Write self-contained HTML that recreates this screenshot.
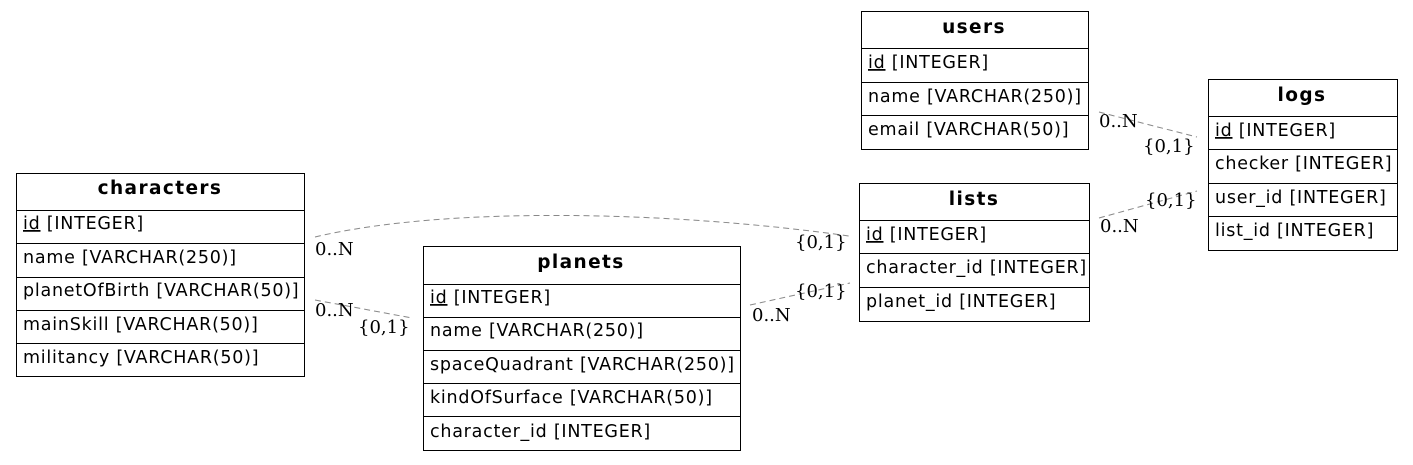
<!DOCTYPE html>
<html><head><meta charset="utf-8"><style>
body{margin:0;background:#fff;width:1413px;height:460px;overflow:hidden}
svg text{font-family:"DejaVu Sans","Liberation Sans",sans-serif;font-size:17.5px;fill:#000;letter-spacing:0.75px}
svg text.h{font-weight:bold;font-size:18.5px;letter-spacing:1.4px}
svg text.l{font-family:"DejaVu Serif","Liberation Serif",serif;font-size:18px;letter-spacing:0}
</style></head><body>
<svg width="1413" height="460" xmlns="http://www.w3.org/2000/svg">
<g fill="none" stroke="#888" stroke-dasharray="6,4" stroke-width="1">
<path d="M315,237 C450,205 680,212 849,236"/>
<path d="M315,300 L412,318"/>
<path d="M750,305 L850,283"/>
<path d="M1099,112 L1197,137"/>
<path d="M1099,218 L1197,191"/>
</g>
<g fill="#fff" stroke="#000" stroke-width="1">
<rect x="16.5" y="173.5" width="288" height="203"/>
<path d="M16.5,210.5H304.5M16.5,243.5H304.5M16.5,277.5H304.5M16.5,310.5H304.5M16.5,343.5H304.5"/>
<rect x="423.5" y="246.5" width="317" height="204"/>
<path d="M423.5,284.5H740.5M423.5,317.5H740.5M423.5,350.5H740.5M423.5,383.5H740.5M423.5,416.5H740.5"/>
<rect x="861.5" y="11.5" width="227" height="138"/>
<path d="M861.5,48.5H1088.5M861.5,82.5H1088.5M861.5,115.5H1088.5"/>
<rect x="859.5" y="183.5" width="230" height="138"/>
<path d="M859.5,220.5H1089.5M859.5,253.5H1089.5M859.5,287.5H1089.5"/>
<rect x="1208.5" y="79.5" width="189" height="171"/>
<path d="M1208.5,116.5H1397.5M1208.5,149.5H1397.5M1208.5,183.5H1397.5M1208.5,216.5H1397.5"/>
</g>
<text class="h" x="160" y="194" text-anchor="middle">characters</text>
<text x="23" y="229"><tspan text-decoration="underline">id</tspan> [INTEGER]</text>
<text x="23" y="263">name [VARCHAR(250)]</text>
<text x="23" y="296">planetOfBirth [VARCHAR(50)]</text>
<text x="23" y="330">mainSkill [VARCHAR(50)]</text>
<text x="23" y="363">militancy [VARCHAR(50)]</text>

<text class="h" x="581" y="268" text-anchor="middle">planets</text>
<text x="430" y="303"><tspan text-decoration="underline">id</tspan> [INTEGER]</text>
<text x="430" y="336">name [VARCHAR(250)]</text>
<text x="430" y="370">spaceQuadrant [VARCHAR(250)]</text>
<text x="430" y="403">kindOfSurface [VARCHAR(50)]</text>
<text x="430" y="437">character_id [INTEGER]</text>

<text class="h" x="974" y="33" text-anchor="middle">users</text>
<text x="868" y="68"><tspan text-decoration="underline">id</tspan> [INTEGER]</text>
<text x="868" y="102">name [VARCHAR(250)]</text>
<text x="868" y="135">email [VARCHAR(50)]</text>

<text class="h" x="974" y="205" text-anchor="middle">lists</text>
<text x="866" y="240"><tspan text-decoration="underline">id</tspan> [INTEGER]</text>
<text x="866" y="273">character_id [INTEGER]</text>
<text x="866" y="307">planet_id [INTEGER]</text>

<text class="h" x="1302" y="101" text-anchor="middle">logs</text>
<text x="1215" y="136"><tspan text-decoration="underline">id</tspan> [INTEGER]</text>
<text x="1215" y="169">checker [INTEGER]</text>
<text x="1215" y="203">user_id [INTEGER]</text>
<text x="1215" y="236">list_id [INTEGER]</text>

<text class="l" x="315" y="255">0..N</text>
<text class="l" x="795" y="248">{0,1}</text>
<text class="l" x="315" y="316">0..N</text>
<text class="l" x="358" y="333">{0,1}</text>
<text class="l" x="752" y="321">0..N</text>
<text class="l" x="795" y="297">{0,1}</text>
<text class="l" x="1099" y="127">0..N</text>
<text class="l" x="1143" y="152">{0,1}</text>
<text class="l" x="1145" y="206">{0,1}</text>
<text class="l" x="1100" y="232">0..N</text>
</svg>
</body></html>
